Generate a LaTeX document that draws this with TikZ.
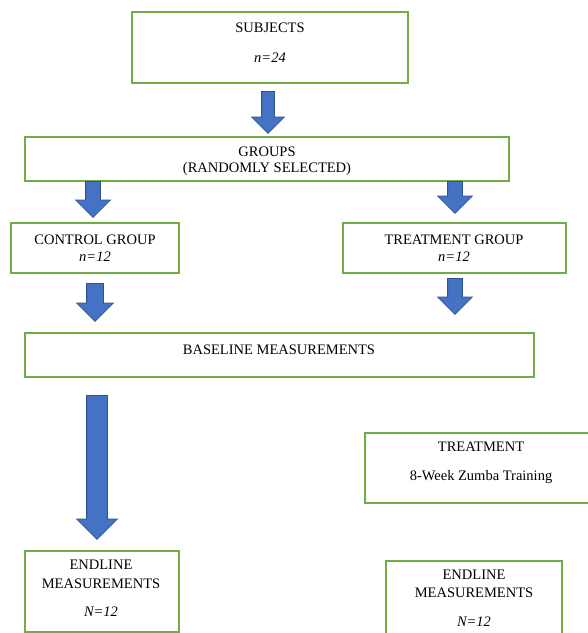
\documentclass[tikz,border=0pt]{standalone}
\usepackage{fontspec}
\setmainfont{Liberation Serif}
\usetikzlibrary{shapes.arrows}
\definecolor{boxgreen}{HTML}{70AD47}
\definecolor{arrowblue}{HTML}{4472C4}
\definecolor{arrowline}{HTML}{2F528F}
\begin{document}
\begin{tikzpicture}[x=1pt, y=-1pt,
  box/.style={rectangle, draw=boxgreen, line width=1.1pt, inner sep=0pt},
  txt/.style={align=center, inner sep=0pt, font=\fontsize{14.5}{17}\selectfont},
  blockarrow/.style={single arrow, draw=arrowline, fill=arrowblue, line width=0.8pt,
    rotate=-90, anchor=tail, inner xsep=0pt, single arrow head extend=10pt}]
\useasboundingbox (0,0) rectangle (588,633);
\node[box, minimum width=276, minimum height=71] (subjects) at (270,47.5){};
\node[txt] (subjects-t) at (270,43){SUBJECTS\\[13pt]\textit{n=24}};
\node[box, minimum width=484, minimum height=44] (groups) at (267,159){};
\node[txt] (groups-t) at (267,161){GROUPS\\[-1pt](RANDOMLY SELECTED)};
\node[box, minimum width=168, minimum height=50] (control) at (95,248){};
\node[txt] (control-t) at (95,248.5){CONTROL GROUP\\\textit{n=12}};
\node[box, minimum width=223, minimum height=50] (treatgroup) at (454.5,248){};
\node[txt] (treatgroup-t) at (454,248){TREATMENT GROUP\\\textit{n=12}};
\node[box, minimum width=509, minimum height=44] (baseline) at (279.5,355){};
\node[txt] (baseline-t) at (279,350){BASELINE MEASUREMENTS};
\node[box, minimum width=235, minimum height=70] (treatment) at (482.5,468){};
\node[txt] (treatment-t) at (481,462.5){TREATMENT\\[12pt]8-Week Zumba Training};
\node[box, minimum width=154, minimum height=81] (endctrl) at (102,591.5){};
\node[txt] (endctrl-t) at (101,588.5){ENDLINE\\[2pt]MEASUREMENTS\\[11pt]\textit{N=12}};
\node[box, minimum width=176, minimum height=84] (endtreat) at (474,603){};
\node[txt] (endtreat-t) at (474,598.5){ENDLINE\\[1pt]MEASUREMENTS\\[12pt]\textit{N=12}};
\node[blockarrow, inner ysep=6pt, minimum height=42, minimum width=32] (arr1) at (268,91){};
\node[blockarrow, inner ysep=7pt, minimum height=36, minimum width=32] (arr2) at (93,181){};
\node[blockarrow, inner ysep=7pt, minimum height=32, minimum width=32] (arr3) at (455,181){};
\node[blockarrow, inner ysep=8pt, minimum height=38, minimum width=36] (arr4) at (95,283){};
\node[blockarrow, inner ysep=7pt, minimum height=36, minimum width=32] (arr5) at (455,278){};
\node[blockarrow, inner ysep=10pt, minimum height=144, minimum width=40] (arr6) at (97,395){};
\end{tikzpicture}
\end{document}
